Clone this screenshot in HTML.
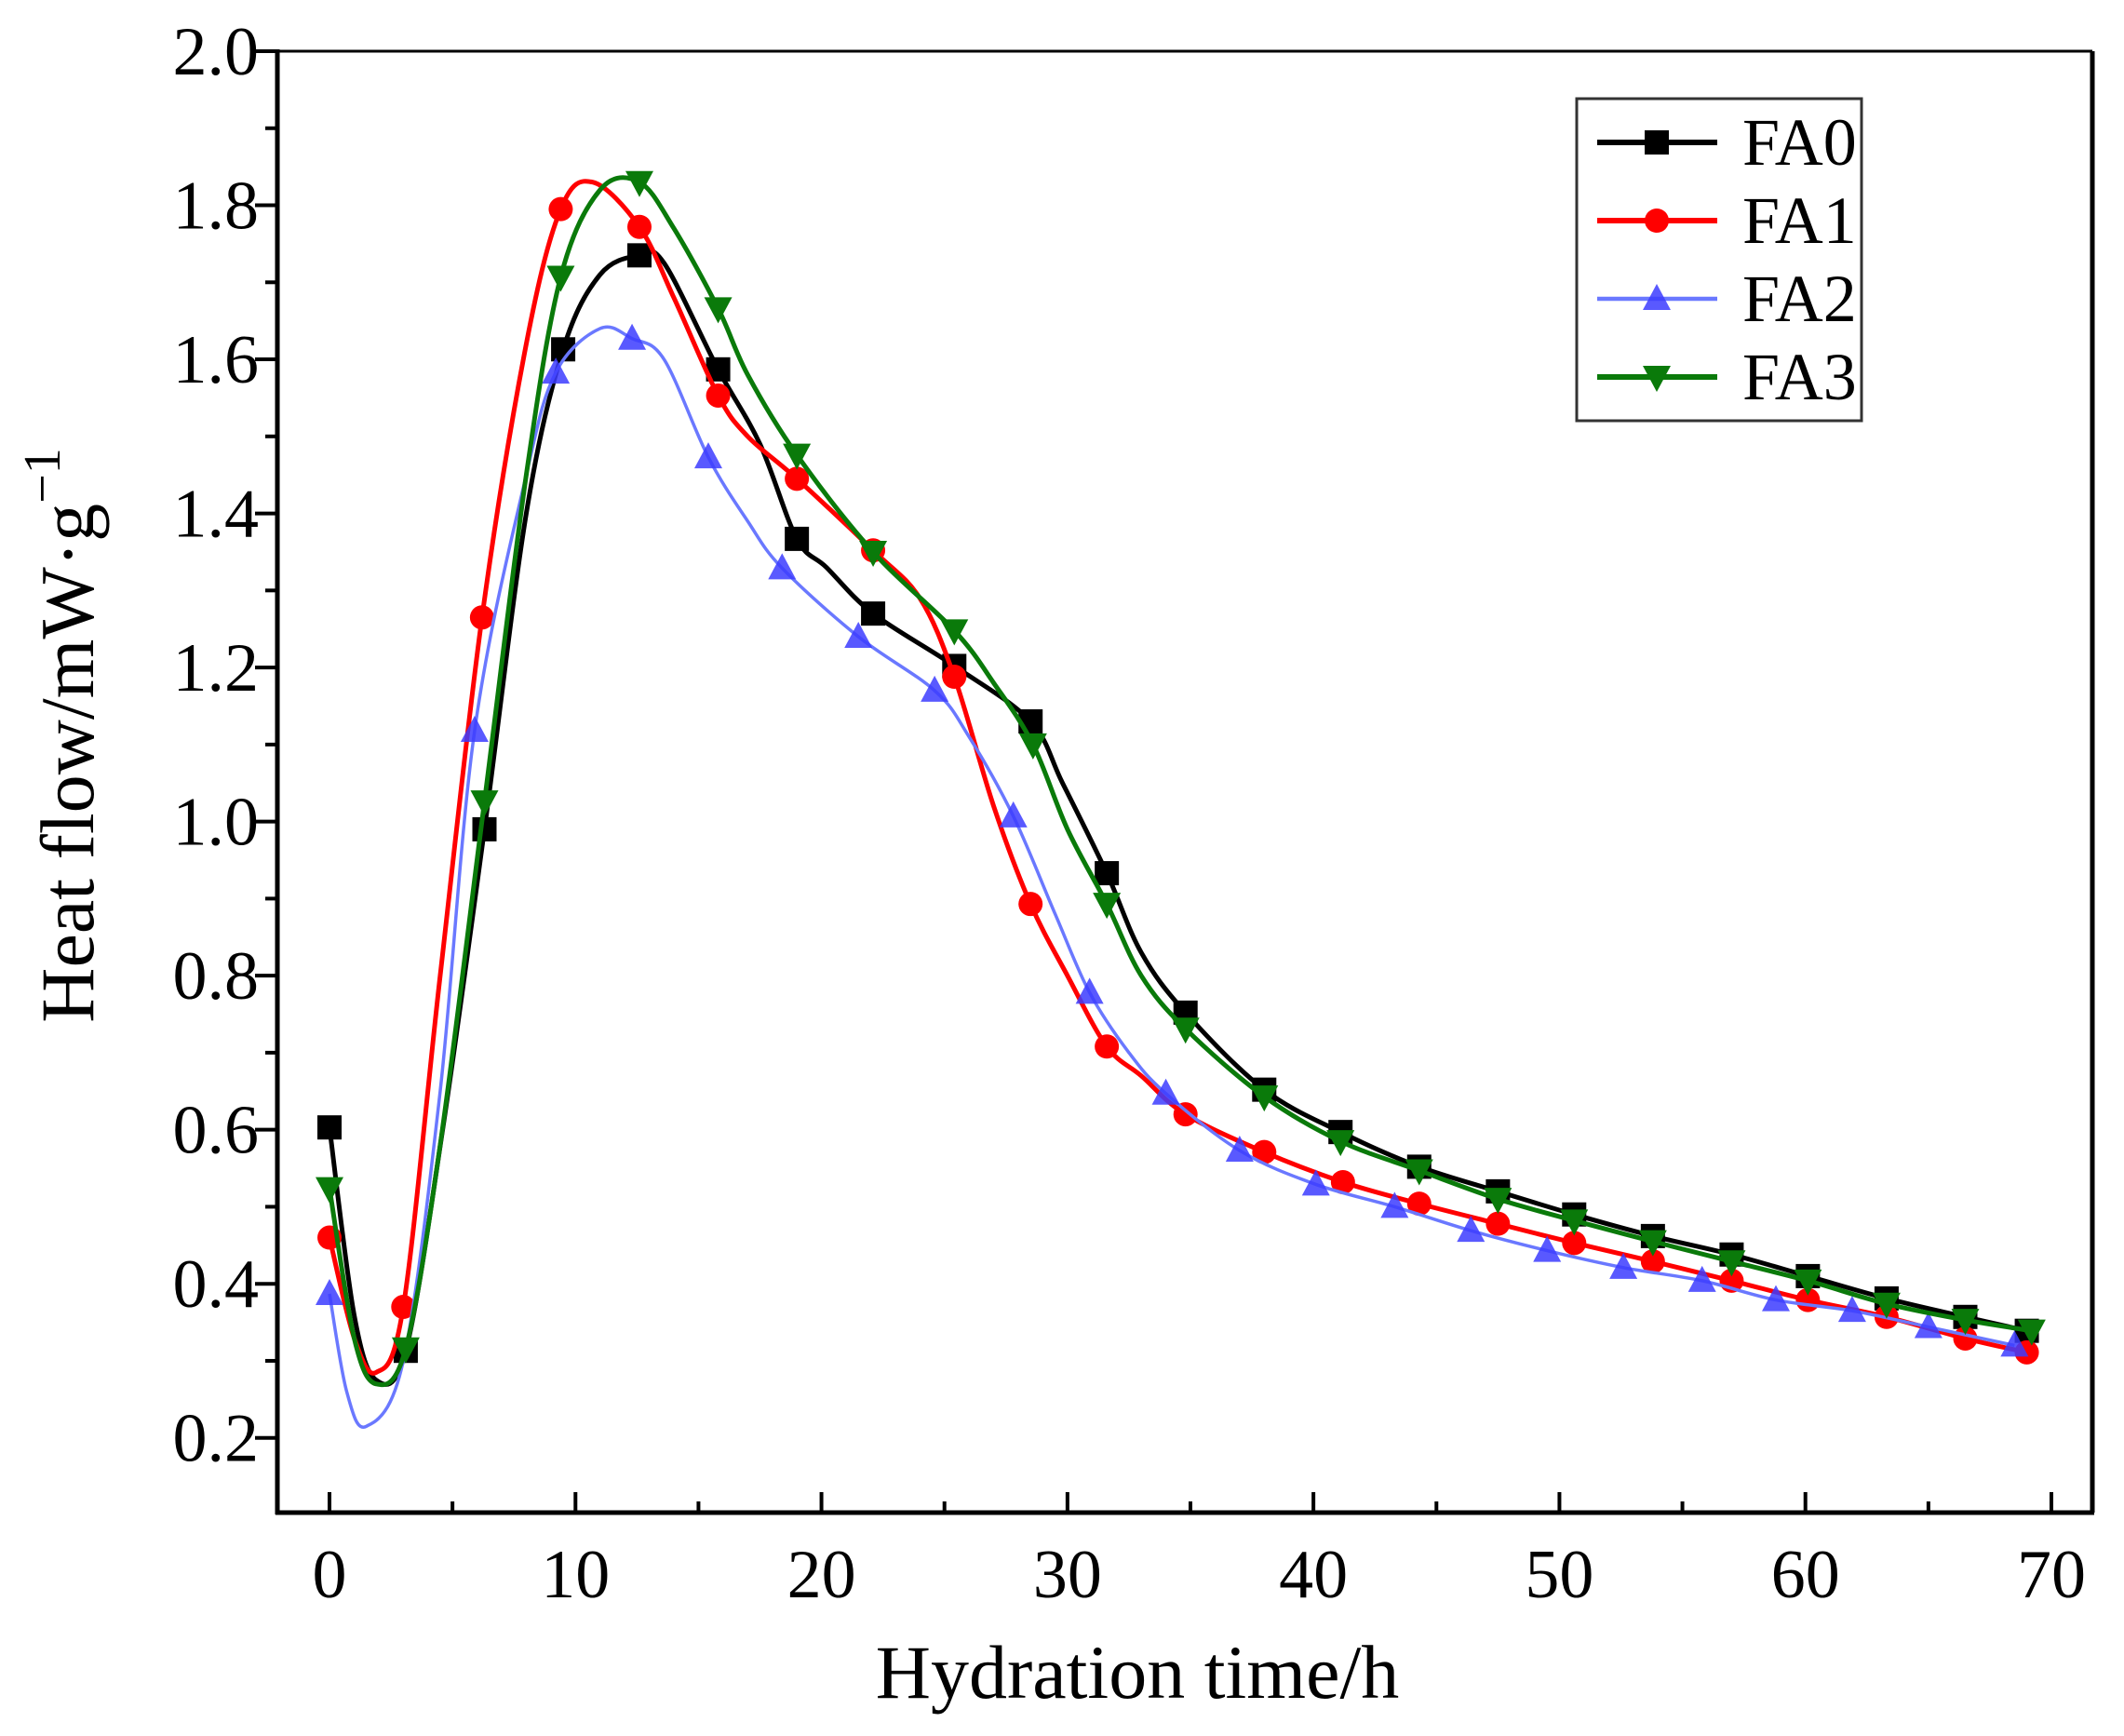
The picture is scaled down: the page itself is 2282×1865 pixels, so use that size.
<!DOCTYPE html>
<html><head><meta charset="utf-8"><style>
html,body{margin:0;padding:0;background:#fff;}
svg{display:block;font-family:"Liberation Serif",serif;}
</style></head><body>
<svg id="chart" width="2282" height="1865" viewBox="0 0 2282 1865" xmlns="http://www.w3.org/2000/svg">
<g id="plot"></g>
</svg>
<script>
// ---- data ----
const xTicks=[0,10,20,30,40,50,60,70];
const yTicks=[0.2,0.4,0.6,0.8,1.0,1.2,1.4,1.6,1.8,2.0];
const seriesNames=["FA0","FA1","FA2","FA3"];
const fa0T=[0,3.1,6.3,9.5,12.6,15.8,19,22.1,25.4,28.5,31.6,34.8,38,41.1,44.3,47.5,50.6,53.8,57,60.1,63.3,66.5,69];
const fa0V=[0.603,0.313,0.99,1.613,1.735,1.587,1.367,1.27,1.202,1.13,0.933,0.752,0.652,0.597,0.552,0.52,0.49,0.462,0.438,0.41,0.381,0.357,0.339];
const fa0CT=[1.0,1.9,4.6,8.0,11.0,13.6,17.5,20.2,29.8,33.0];
const fa0CV=[0.36,0.275,0.6,1.4,1.71,1.725,1.49,1.33,1.05,0.83];
const fa1T=[0,3.0,6.2,9.4,12.6,15.8,19,22.1,25.4,28.5,31.6,34.8,38,41.2,44.3,47.5,50.6,53.8,57,60.1,63.3,66.5,69];
const fa1V=[0.46,0.37,1.265,1.795,1.772,1.553,1.445,1.352,1.188,0.893,0.708,0.62,0.571,0.532,0.504,0.478,0.453,0.429,0.404,0.379,0.357,0.329,0.311];
const fa1CT=[1.0,1.9,4.5,8.0,10.7,14.0,17.0,24.0,27.0,30.0,33.0];
const fa1CV=[0.33,0.285,0.8,1.62,1.83,1.68,1.5,1.29,1.02,0.8,0.67];
const fa2T=[0,5.9,9.2,12.3,15.4,18.4,21.5,24.6,27.8,30.9,34,37,40.1,43.3,46.4,49.5,52.6,55.8,58.8,61.9,65,68.5];
const fa2V=[0.387,1.118,1.583,1.627,1.473,1.329,1.24,1.17,1.007,0.778,0.647,0.573,0.529,0.5,0.469,0.443,0.421,0.404,0.379,0.365,0.344,0.32];
const fa2CT=[0.7,1.5,3.0,4.5,8.0,11.0,13.6,17.0,26.0,29.5,32.5];
const fa2CV=[0.26,0.215,0.3,0.65,1.45,1.64,1.6,1.39,1.11,0.88,0.7];
const fa3T=[0,3.1,6.3,9.4,12.6,15.8,19,22.1,25.4,28.6,31.6,34.8,38,41.1,44.3,47.5,50.6,53.8,57,60.1,63.3,66.5,69.2];
const fa3V=[0.524,0.316,1.026,1.707,1.83,1.666,1.476,1.35,1.248,1.1,0.893,0.731,0.643,0.585,0.547,0.51,0.482,0.455,0.429,0.404,0.374,0.353,0.339];
const fa3CT=[1.0,1.9,4.5,8.0,11.0,14.0,17.0,27.0,30.0,33.0];
const fa3CV=[0.33,0.27,0.58,1.45,1.82,1.77,1.58,1.18,0.99,0.8];

// ---- layout ----
const L=298,R=2248,T=55,B=1625;
const yMin=0.103,yMax=2.0;
const X=v=>354+(v-0)*(2204-354)/70;
const Y=v=>B-(v-yMin)*(B-T)/(yMax-yMin);
const NS="http://www.w3.org/2000/svg";
const g=document.getElementById('plot');
function mk(tag,attrs,parent){const e=document.createElementNS(NS,tag);for(const k in attrs)e.setAttribute(k,attrs[k]);(parent||g).appendChild(e);return e;}

let e;
e=mk('line',{x1:L,y1:T,x2:R,y2:T,stroke:'#000','stroke-width':3});


e=mk('line',{x1:R,y1:T,x2:R,y2:B,stroke:'#000','stroke-width':5});


e=mk('line',{x1:L,y1:T-2,x2:L,y2:B+2,stroke:'#000','stroke-width':5});


e=mk('line',{x1:L-2,y1:B,x2:R+2,y2:B,stroke:'#000','stroke-width':5});



for(let i=0;i<xTicks.length;i++){
  const v=xTicks[i];
  e=mk('line',{x1:X(v),y1:B,x2:X(v),y2:B-22,stroke:'#000','stroke-width':4});
  
  
  if(i<xTicks.length-1){
    e=mk('line',{x1:X(v+5),y1:B,x2:X(v+5),y2:B-12,stroke:'#000','stroke-width':4});
    
    
  }
  e=mk('text',{x:X(v),y:1716,'font-size':74,'text-anchor':'middle'});
  e.textContent=v;
  
  
}
for(let i=0;i<yTicks.length;i++){
  const v=yTicks[i];
  e=mk('line',{x1:L,y1:Y(v),x2:L-24,y2:Y(v),stroke:'#000','stroke-width':4});
  
  
  const m=v+0.1;
  if(m<yMax){
    e=mk('line',{x1:L,y1:Y(m),x2:L-13,y2:Y(m),stroke:'#000','stroke-width':4});
    
    
  }
  e=mk('text',{x:278,y:Y(v)+25,'font-size':74,'text-anchor':'end'});
  e.textContent=v.toFixed(1);
  
  
}
e=mk('text',{x:1222,y:1824,'font-size':82,'text-anchor':'middle'});
e.textContent='Hydration time/h';


e=mk('text',{x:0,y:0,'font-size':82,'text-anchor':'middle',transform:'translate(100,790) rotate(-90)'});


const t1=mk('tspan',{},e);t1.textContent='Heat flow/mW·g';
const t2=mk('tspan',{dy:-36,'font-size':56},e);t2.textContent='−1';

const styles=[
 {c:'#000',mc:'#000',w:5,m:'square'},
 {c:'#ff0000',mc:'#ff0000',w:5,m:'circle'},
 {c:'#6a78ff',mc:'#3c3cff',w:3.5,m:'tri'},
 {c:'#0a7a0a',mc:'#0a7a0a',w:5,m:'itri'}];
const mT=[fa0T,fa1T,fa2T,fa3T],mV=[fa0V,fa1V,fa2V,fa3V],cT=[fa0CT,fa1CT,fa2CT,fa3CT],cV=[fa0CV,fa1CV,fa2CV,fa3CV];
function curvePath(pts){
  let d=`M${X(pts[0][0])},${Y(pts[0][1])}`;
  for(let i=0;i<pts.length-1;i++){
    const p0=pts[Math.max(0,i-1)],p1=pts[i],p2=pts[i+1],p3=pts[Math.min(pts.length-1,i+2)];
    const x0=X(p0[0]),y0=Y(p0[1]),x1=X(p1[0]),y1=Y(p1[1]),x2=X(p2[0]),y2=Y(p2[1]),x3=X(p3[0]),y3=Y(p3[1]);
    const c1x=x1+(x2-x0)/6,c1y=y1+(y2-y0)/6,c2x=x2-(x3-x1)/6,c2y=y2-(y3-y1)/6;
    d+=` C${c1x},${c1y} ${c2x},${c2y} ${x2},${y2}`;
  }
  return d;
}
function marker(type,x,y,col,parent){
  const s=13;let m;
  if(type==='square') m=mk('rect',{x:x-s,y:y-s,width:2*s,height:2*s,fill:col},parent);
  else if(type==='circle') m=mk('circle',{cx:x,cy:y,r:s,fill:col},parent);
  else if(type==='tri') m=mk('polygon',{points:`${x},${y-s-3} ${x-s-2},${y+s-1} ${x+s+2},${y+s-1}`,fill:col,'fill-opacity':0.85},parent);
  else m=mk('polygon',{points:`${x},${y+s+3} ${x-s-2},${y-s+1} ${x+s+2},${y-s+1}`,fill:col},parent);
  return m;
}
for(let s=0;s<4;s++){
  const sg=mk('g',{});
  
  
  const pts=[];
  for(let i=0;i<mT[s].length;i++)pts.push([mT[s][i],mV[s][i]]);
  for(let i=0;i<cT[s].length;i++)pts.push([cT[s][i],cV[s][i]]);
  pts.sort((a,b)=>a[0]-b[0]);
  const st=styles[s];
  const p=mk('path',{d:curvePath(pts),fill:'none',stroke:st.c,'stroke-width':st.w,'stroke-linejoin':'round'},sg);
  
  
  for(let i=0;i<mT[s].length;i++){
    const m=marker(st.m,X(mT[s][i]),Y(mV[s][i]),st.mc,sg);
    
    
  }
}
const lg=mk('g',{});


e=mk('rect',{x:1694,y:106,width:306,height:346,fill:'#fff',stroke:'#333','stroke-width':3},lg);


for(let s=0;s<4;s++){
  const y=153+s*84;
  const st=styles[s];
  const eg=mk('g',{},lg);
  
  
  mk('line',{x1:1716,y1:y,x2:1845,y2:y,stroke:st.c,'stroke-width':st.w+1},eg);
  marker(st.m,1780,y,st.mc,eg);
  const tx=mk('text',{x:1872,y:y+24,'font-size':72},eg);
  tx.textContent=seriesNames[s];
}
</script>
</body></html>
